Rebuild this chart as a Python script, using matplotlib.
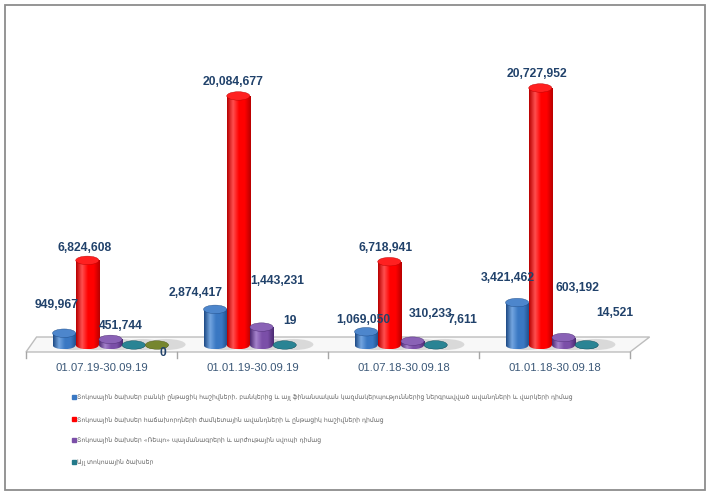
import matplotlib.pyplot as plt
import numpy as np
from matplotlib.patches import Ellipse, Rectangle, Polygon
from matplotlib.colors import LinearSegmentedColormap
from matplotlib.lines import Line2D

periods = ['01.07.19-30.09.19', '01.01.19-30.09.19', '01.07.18-30.09.18', '01.01.18-30.09.18']
bank_deposits = [949967, 2874417, 1069050, 3421462]
client_deposits = [6824608, 20084677, 6718941, 20727952]
repo_swap = [451744, 1443231, 310233, 603192]
other_interest = [0, 19, 7611, 14521]
unnamed = [0]  # olive disc, only in the first period, not in legend

legend_labels = [
    'Տոկոսային ծախսեր բանկի ընթացիկ հաշիվների, բանկերից և այլ ֆինանսական կազմակերպություններից ներգրավված ավանդների և վարկերի դիմաց',
    'Տոկոսային ծախսեր հաճախորդների ժամկետային ավանդների և ընթացիկ հաշիվների դիմաց',
    'Տոկոսային ծախսեր «Ռեպո» պայմանագրերի և արժութային սվոպի դիմաց',
    'Այլ տոկոսային ծախսեր',
]

# (dark, light, base, top) shades per series
shades = [
    ('#1d4a85', '#74a6e0', '#3a78c3', '#4d86cc'),
    ('#b80000', '#ff5050', '#ff0000', '#ff2020'),
    ('#4b2a72', '#a683cc', '#7b4fa8', '#8a62b6'),
    ('#15505c', '#3f9fae', '#23798a', '#2a8494'),
    ('#4f5a1c', '#8a9a3c', '#6b7a2b', '#76862f'),
]
legend_colors = ['#3a78c3', '#ff0000', '#7b4fa8', '#23798a']

# label offsets in pixels (dx, dy) from the top of each cylinder
label_off = [
    [(-7, 28), (-19, 16), (-3, 12), (-9, 25)],
    [(-3, 12), (-5, 14), (-4, 14), (-3, 14)],
    [(10, 13), (16, 46), (18, 27), (14, 50)],
    [(29, -8), (5, 24), (27, 25), (28, 32)],
]

W, H = 706, 492
fig = plt.figure(figsize=(W / 100, H / 100), dpi=100)
ax = fig.add_axes([0, 0, 1, 1])
ax.set_axis_off()

k = 12.4e-6          # pixels per unit value
x0, xs = 101.5, 151  # pixel of first category, pixels per category
base_px = 345        # baseline pixel from top
ax.set_xlim(-x0 / xs, (W - x0) / xs)
ax.set_ylim(-(H - base_px) / k, base_px / k)

px = 1 / k           # one vertical pixel in data units
slot = 23.2 / xs
bw = 0.153
depth = 9 / xs
eh = 8.5 * px

# floor
floor = Polygon([(-0.5, -7 * px), (3.5, -7 * px), (3.5 + 0.13, 8 * px), (-0.5 + 0.07, 8 * px)],
                closed=True, fc='#f8f8f8', ec='#bdbdbd', lw=1.0, zorder=1)
ax.add_patch(floor)
for t in np.arange(-0.5, 4, 1):
    ax.plot([t, t], [-7 * px, -13 * px], color='#a6a6a6', lw=1.0, zorder=1)

for i, p in enumerate(periods):
    ax.text(i, -23 * px, p, ha='center', va='center', fontsize=8.2,
            family='Liberation Sans', color='#3b5878')


def cylinder(x, v, sh, z):
    dark, light, base, top = sh
    cmap = LinearSegmentedColormap.from_list('c', [dark, light, base, base, dark])
    grad = np.linspace(0, 1, 64)[None, :]
    # shadow on the floor
    sd = Ellipse((x + 0.06, 0.5 * px), bw * 1.7, eh * 1.3, fc='#bcbcbc', ec='none',
                 alpha=0.5, zorder=2)
    ax.add_patch(sd)
    body = Rectangle((x - bw / 2, 0), bw, v, fc='none', ec='none')
    bottom = Ellipse((x, 0), bw, eh, fc='none', ec='none')
    ax.add_patch(body)
    ax.add_patch(bottom)
    for clip in (body, bottom):
        im = ax.imshow(grad, cmap=cmap, extent=(x - bw / 2, x + bw / 2, -eh / 2, v + 0.1 * px),
                       aspect='auto', zorder=z, interpolation='bilinear')
        im.set_clip_path(clip)
    ax.add_patch(Ellipse((x, v), bw, eh, fc=top, ec=dark, lw=0.3, zorder=z + 0.1))


series = [bank_deposits, client_deposits, repo_swap, other_interest]
for s, vals in enumerate(series):
    for i, v in enumerate(vals):
        x = i + depth + (s - 2) * slot
        cylinder(x, v, shades[s], 3 + i * 0.01)
        dx, dy = label_off[s][i]
        ax.annotate(f'{v:,}', (x, v), xytext=(dx, dy), textcoords='offset pixels',
                    ha='center', va='center', fontsize=8.7, fontweight='bold',
                    family='Liberation Sans', color='#21426b', zorder=10)
for i, v in enumerate(unnamed):
    cylinder(i + depth + 2 * slot, v, shades[4], 3)

ax.set_xlim(-x0 / xs, (W - x0) / xs)
ax.set_ylim(-(H - base_px) / k, base_px / k)

handles = [Line2D([], [], ls='none', marker='s', markersize=3.0, color=c) for c in legend_colors]
leg = fig.legend(handles, legend_labels, loc='upper left', bbox_to_anchor=(72 / W, 1 - 394.5 / H),
                 frameon=False, fontsize=4.4, handlelength=0.5, handletextpad=0.25,
                 labelspacing=2.45, borderpad=0, borderaxespad=0)
for t in leg.get_texts():
    t.set_color('#666666')
    t.set_family('DejaVu Sans')

fig.add_artist(Rectangle((4.5 / W, 2 / H), (704.5 - 4.5) / W, (487 - 2) / H,
                         transform=fig.transFigure, fill=False, ec='#8c8c8c', lw=1.3))

fig.savefig('out.png', dpi=100)
